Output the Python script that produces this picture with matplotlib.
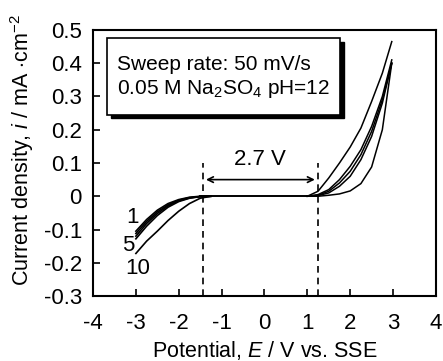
import matplotlib
matplotlib.use('Agg')
import matplotlib.pyplot as plt
from matplotlib.patches import Rectangle

plt.rcParams['font.family'] = ['Liberation Sans', 'DejaVu Sans']
plt.rcParams['mathtext.fontset'] = 'custom'
plt.rcParams['mathtext.rm'] = 'Liberation Sans'
plt.rcParams['mathtext.it'] = 'Liberation Sans:italic'

# cathodic branch (potential in V vs SSE, current in mA/cm2)
x_cath = [-3.0, -2.75, -2.5, -2.25, -2.0, -1.75, -1.5, -1.25]
i_cyc1_a = [-0.105, -0.07, -0.042, -0.022, -0.01, -0.003, 0.0, 0.0]
i_cyc1_b = [-0.112, -0.076, -0.047, -0.026, -0.012, -0.004, -0.001, 0.0]
i_cyc5_a = [-0.12, -0.082, -0.052, -0.029, -0.014, -0.005, -0.001, 0.0]
i_cyc5_b = [-0.128, -0.09, -0.058, -0.033, -0.016, -0.006, -0.001, 0.0]
i_cyc10 = [-0.172, -0.135, -0.105, -0.073, -0.045, -0.022, -0.006, 0.0]

# flat region
x_flat = [-1.5, 1.05]
i_flat = [0.0, 0.0]

# anodic branch
x_anod = [1.0, 1.25, 1.5, 1.75, 2.0, 2.25, 2.5, 2.75, 2.97]
i_anod_1 = [0.0, 0.015, 0.055, 0.10, 0.148, 0.205, 0.285, 0.37, 0.465]
i_anod_2 = [0.0, 0.005, 0.02, 0.05, 0.09, 0.14, 0.21, 0.30, 0.41]
i_anod_3 = [0.0, 0.003, 0.015, 0.04, 0.075, 0.125, 0.195, 0.29, 0.40]
i_anod_4 = [0.0, 0.002, 0.01, 0.03, 0.06, 0.11, 0.18, 0.28, 0.40]
i_anod_5 = [0.0, 0.0, 0.003, 0.007, 0.016, 0.038, 0.088, 0.2, 0.40]

# window limits
e_low = -1.43
e_high = 1.24

fig = plt.figure(figsize=(4.43, 3.61), dpi=100)
ax = fig.add_axes([0.21, 0.18, 0.774, 0.737])

for ys in [i_cyc1_a, i_cyc1_b, i_cyc5_a, i_cyc5_b, i_cyc10]:
    ax.plot(x_cath, ys, 'k-', lw=1.2)
ax.plot(x_flat, i_flat, 'k-', lw=1.4)
for ys in [i_anod_1, i_anod_2, i_anod_3, i_anod_4, i_anod_5]:
    ax.plot(x_anod, ys, 'k-', lw=1.1)

ax.plot([e_low, e_low], [-0.3, 0.1], 'k--', lw=1.2, dashes=(4, 3))
ax.plot([e_high, e_high], [-0.3, 0.1], 'k--', lw=1.2, dashes=(4, 3))
ax.annotate('', xy=(e_low, 0.05), xytext=(e_high, 0.05),
            arrowprops=dict(arrowstyle='<->', lw=1.2, color='k'))
ax.text(-0.1, 0.112, '2.7 V', fontsize=16, ha='center', va='center')

ax.text(-3.07, -0.065, '1', fontsize=16, ha='center', va='center')
ax.text(-3.18, -0.147, '5', fontsize=16, ha='center', va='center')
ax.text(-2.95, -0.218, '10', fontsize=16, ha='center', va='center')

# text box with shadow
ax.add_patch(Rectangle((-3.58, 0.235), 5.44, 0.23, facecolor='k', edgecolor='k', zorder=3))
ax.add_patch(Rectangle((-3.67, 0.245), 5.44, 0.23, facecolor='white', edgecolor='k', lw=1.2, zorder=4))
ax.text(-3.45, 0.397, 'Sweep rate: 50 mV/s', fontsize=15, va='center', zorder=5)
ax.text(-3.45, 0.322, '0.05 M Na$_2$SO$_4$ pH=12', fontsize=15, va='center', zorder=5)

ax.set_xlim(-4, 4)
ax.set_ylim(-0.3, 0.5)
ax.set_xticks([-4, -3, -2, -1, 0, 1, 2, 3, 4])
ax.set_yticks([-0.3, -0.2, -0.1, 0, 0.1, 0.2, 0.3, 0.4, 0.5])
ax.set_yticklabels(['-0.3', '-0.2', '-0.1', '0', '0.1', '0.2', '0.3', '0.4', '0.5'])
ax.set_xticklabels(['-4', '-3', '-2', '-1', '0', '1', '2', '3', '4'])
ax.tick_params(direction='in', length=5, width=1.2, labelsize=16)
ax.tick_params(axis='x', pad=12)
ax.tick_params(axis='y', pad=8)
for s in ax.spines.values():
    s.set_linewidth(1.5)

ax.set_xlabel('Potential, $E$ / V vs. SSE', fontsize=15.5)
ax.set_ylabel('Current density, $i$ / mA $\\cdot$cm$^{-2}$', fontsize=15.5)
ax.xaxis.set_label_coords(0.5, -0.16)
ax.yaxis.set_label_coords(-0.165, 0.55)

fig.savefig('out.png', dpi=100)
